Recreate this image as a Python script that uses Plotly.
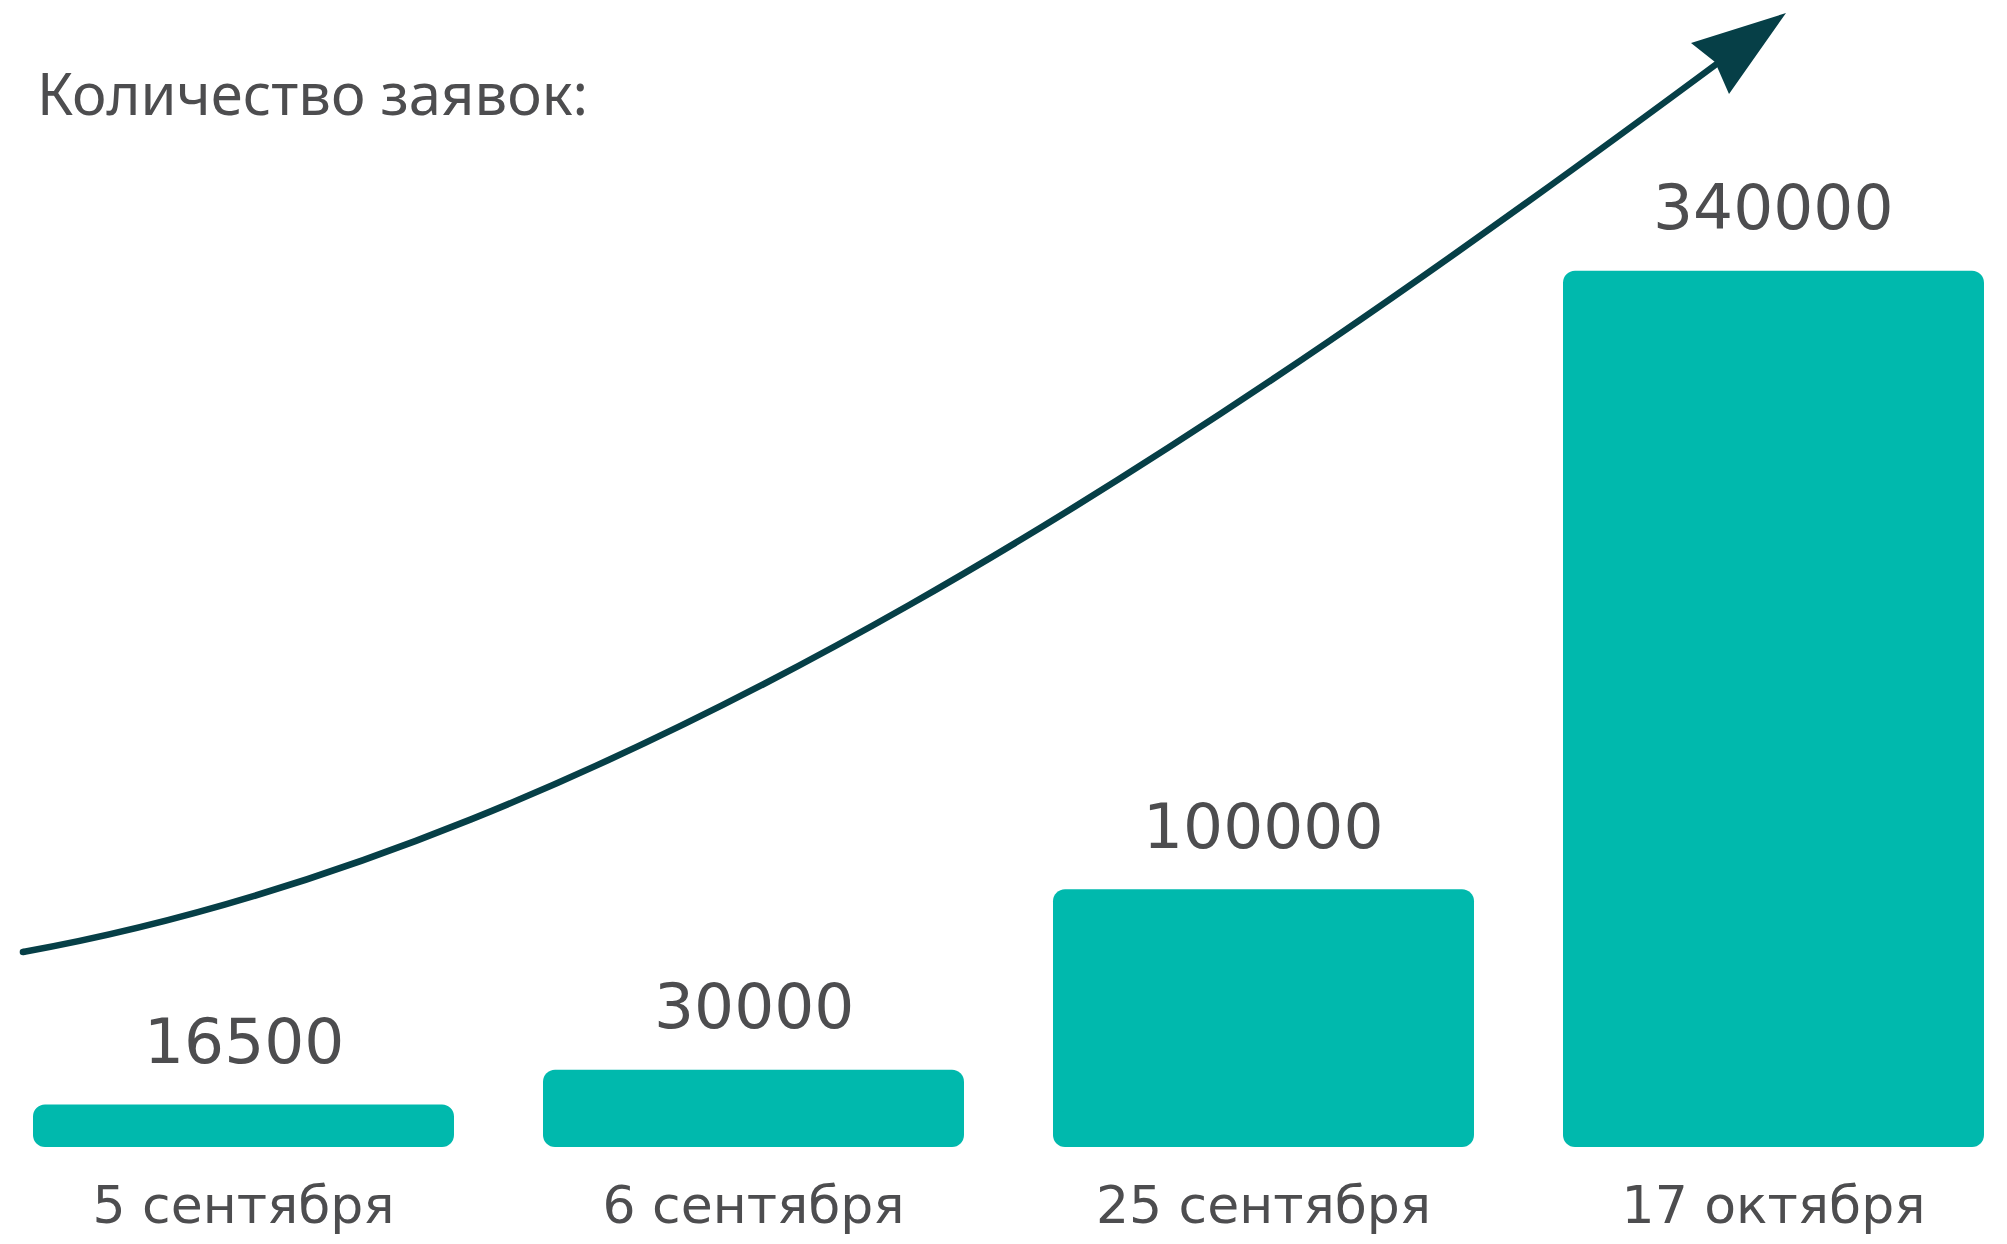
import plotly.graph_objects as go

# ---- data ----
categories = ["5 сентября", "6 сентября", "25 сентября", "17 октября"]
values = [16500, 30000, 100000, 340000]
value_labels = ["16500", "30000", "100000", "340000"]
title_text = "Количество заявок:"

# ---- style ----
W, H = 2007, 1244
MB = 97                      # bottom margin
PH = H - MB                  # plot-area height in px
Y_MAX = 445000
BAR_COLOR = "#00B9AD"
TEXT_COLOR = "#4D4D4F"
ARROW_COLOR = "#063F47"
TITLE_FONT = "Noto Sans"
LABEL_FONT = "DejaVu Sans"
RADIUS_PX = 12
r_data = RADIUS_PX * Y_MAX / PH   # corner radius expressed in y units


def pp(x, y):
    """pixel -> paper coords of the plot area (l=r=t=0)"""
    return x / W, 1 - y / PH


idx = list(range(len(categories)))

fig = go.Figure()
# main body of each bar (rounded top), starting one radius above the baseline
fig.add_trace(go.Bar(
    x=idx, y=[v - r_data for v in values], base=[r_data] * len(values),
    marker=dict(color=BAR_COLOR, cornerradius=RADIUS_PX, line=dict(width=0)),
    hovertext=[f"{c}: {v}" for c, v in zip(categories, values)], hoverinfo="text",
    showlegend=False,
))
# foot of each bar (rounded bottom corners)
fig.add_trace(go.Bar(
    x=idx, y=[-3 * r_data] * len(values), base=[3 * r_data] * len(values),
    marker=dict(color=BAR_COLOR, cornerradius=RADIUS_PX, line=dict(width=0)),
    hoverinfo="skip", showlegend=False,
))

annotations = []
for i, (v, lab) in enumerate(zip(values, value_labels)):
    annotations.append(dict(
        x=i, y=v, xref="x", yref="y", text=lab, showarrow=False,
        yanchor="middle", xanchor="center", yshift=63,
        font=dict(family=LABEL_FONT, size=63, color=TEXT_COLOR),
    ))

tx, ty = pp(35, 92)
annotations.append(dict(
    x=tx, y=ty, xref="paper", yref="paper", text=title_text, showarrow=False,
    xanchor="left", yanchor="middle",
    font=dict(family=TITLE_FONT, size=58, color=TEXT_COLOR),
))

# decorative growth arrow (pixel geometry converted to paper coords)
p0, p1, p2, p3 = pp(23, 952), pp(623, 844), pp(1220, 432), pp(1722, 60)
curve = (f"M {p0[0]},{p0[1]} C {p1[0]},{p1[1]} {p2[0]},{p2[1]} {p3[0]},{p3[1]}")
h1, h2, h3, h4 = pp(1786, 13), pp(1691, 43), pp(1715, 62), pp(1729, 94)
head = (f"M {h1[0]},{h1[1]} L {h2[0]},{h2[1]} L {h3[0]},{h3[1]} "
        f"L {h4[0]},{h4[1]} Z")
c0, c1 = pp(19.7, 948.7), pp(26.3, 955.3)
shapes = [
    dict(type="path", xref="paper", yref="paper", path=curve,
         line=dict(color=ARROW_COLOR, width=6.5), layer="above"),
    dict(type="path", xref="paper", yref="paper", path=head,
         fillcolor=ARROW_COLOR, line=dict(width=0), layer="above"),
    dict(type="circle", xref="paper", yref="paper",
         x0=c0[0], y0=c1[1], x1=c1[0], y1=c0[1],
         fillcolor=ARROW_COLOR, line=dict(width=0), layer="above"),
]

bar_center0 = 243.5
step = 510.0
fig.update_layout(
    width=W, height=H,
    margin=dict(l=0, r=0, t=0, b=MB, pad=0),
    paper_bgcolor="white", plot_bgcolor="white",
    barmode="overlay", bargap=1 - 421 / 510,
    annotations=annotations, shapes=shapes,
    xaxis=dict(
        range=[(0 - bar_center0) / step, (W - bar_center0) / step],
        tickmode="array", tickvals=idx, ticktext=categories,
        showgrid=False, zeroline=False, showline=False, ticks="",
        ticklabelstandoff=23,
        tickfont=dict(family=LABEL_FONT, size=52, color=TEXT_COLOR),
        fixedrange=True,
    ),
    yaxis=dict(range=[0, Y_MAX], visible=False, fixedrange=True),
    font=dict(family=LABEL_FONT, color=TEXT_COLOR),
)

fig.write_html(
    "out.html",
    config={"displayModeBar": False},
    post_script="document.body.style.margin='0';document.body.style.overflow='hidden';",
)
